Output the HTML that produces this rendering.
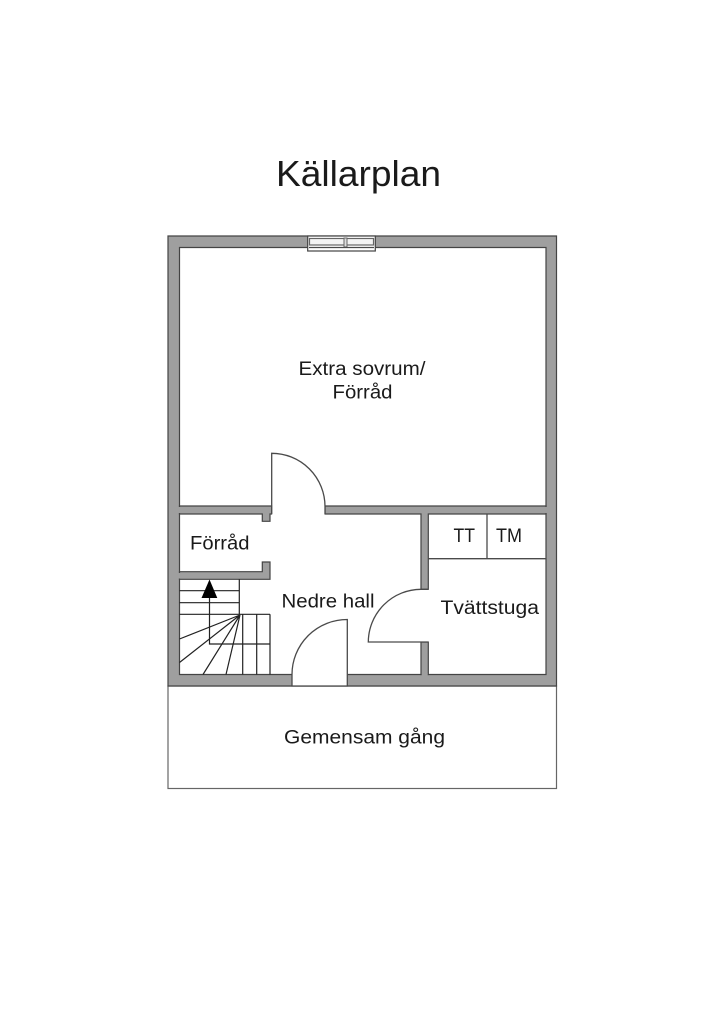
<!DOCTYPE html>
<html><head><meta charset="utf-8"><style>
html,body{margin:0;padding:0;background:#fff;width:724px;height:1024px;overflow:hidden}
svg{display:block}
text{font-family:"Liberation Sans",sans-serif;fill:#1a1a1a}
.w{fill:#9f9f9f;stroke:#444;stroke-width:1.2}
.l{fill:none;stroke:#4a4a4a;stroke-width:1.3}
.s{fill:none;stroke:#222;stroke-width:1.2}
</style></head><body>
<svg width="724" height="1024" viewBox="0 0 724 1024" xmlns="http://www.w3.org/2000/svg">
<text x="276" y="186" font-size="36" textLength="165" lengthAdjust="spacingAndGlyphs">Källarplan</text>
<rect x="168" y="686" width="388.500" height="102.500" fill="#fff" stroke="#666" stroke-width="1.200"/>
<path class="w" fill-rule="evenodd" d="M168 236H556.500V686H168Z M179.500 247.500V674.500H546V247.500Z"/>
<path class="w" d="M179.500 506H271.700V514H270V521.300H262.300V514H179.500Z"/>
<path class="w" d="M325 506H546V514H428.300V589.300H421V514H325Z"/>
<path class="w" d="M421 642H428.300V674.500H421Z"/>
<path class="w" d="M179.500 571.700H262.300V562H270V579.300H179.500Z"/>
<rect x="178" y="507" width="3" height="6" fill="#9f9f9f"/>
<rect x="178" y="573" width="3" height="5.500" fill="#9f9f9f"/>
<rect x="545" y="507" width="2" height="6" fill="#9f9f9f"/>
<rect x="326" y="507" width="219.500" height="6" fill="#9f9f9f"/>
<rect x="422" y="513" width="5.500" height="2" fill="#9f9f9f"/>
<rect x="421.700" y="673" width="6" height="3" fill="#9f9f9f"/>
<rect x="272.300" y="505" width="52.200" height="10" fill="#fff"/>
<path class="l" d="M271.700 514V453.300A53.300 53.300 0 0 1 325 506.500V514"/>
<rect x="292" y="673.500" width="55.300" height="12.500" fill="#fff"/>
<path class="l" d="M292 674V686H347.300V619.500A55.300 55 0 0 0 292 674.500"/>
<rect x="420" y="590" width="9" height="51.500" fill="#fff"/>
<path class="l" d="M421 589.300H428.300M421 589.300A53 53 0 0 0 368.300 642H428.300"/>
<rect x="307.700" y="236" width="67.600" height="15" fill="#fff" stroke="#444" stroke-width="1.200"/>
<rect x="309.500" y="238.500" width="64" height="6.500" fill="#f4f4f4" stroke="#666" stroke-width="1.200"/>
<rect x="344" y="238" width="3" height="9" fill="#ddd" stroke="#666" stroke-width="1"/>
<path class="l" d="M309 247.500H374"/>
<path class="s" d="M179.500 590.700H239.300M179.500 602.700H239.300M179.500 614.300H270M239.300 579.300V614.300M242.700 614.300V674.500M256.700 614.300V674.500M270 614.300V674.500"/>
<path class="s" d="M240 615L179.500 639M240 615L179.500 662.500M240 615L203 674.500M240 615L226 674.500"/>
<path class="s" d="M209.500 597V644H270"/>
<path d="M209.500 579.500L217.300 598H201.500Z" fill="#000"/>
<path class="l" d="M428.300 558.700H546M487 514V558.700"/>
<text x="298.500" y="375" font-size="19" textLength="127" lengthAdjust="spacingAndGlyphs">Extra sovrum/</text>
<text x="332.500" y="398.500" font-size="19" textLength="60" lengthAdjust="spacingAndGlyphs">Förråd</text>
<text x="190" y="549.500" font-size="19" textLength="59.500" lengthAdjust="spacingAndGlyphs">Förråd</text>
<text x="281.500" y="607.500" font-size="19" textLength="93" lengthAdjust="spacingAndGlyphs">Nedre hall</text>
<text x="440.500" y="614" font-size="19" textLength="98.500" lengthAdjust="spacingAndGlyphs">Tvättstuga</text>
<text x="453.500" y="542" font-size="19" textLength="21.500" lengthAdjust="spacingAndGlyphs">TT</text>
<text x="496" y="542" font-size="19" textLength="26" lengthAdjust="spacingAndGlyphs">TM</text>
<text x="284" y="743.500" font-size="19" textLength="161" lengthAdjust="spacingAndGlyphs">Gemensam gång</text>
</svg>
</body></html>
